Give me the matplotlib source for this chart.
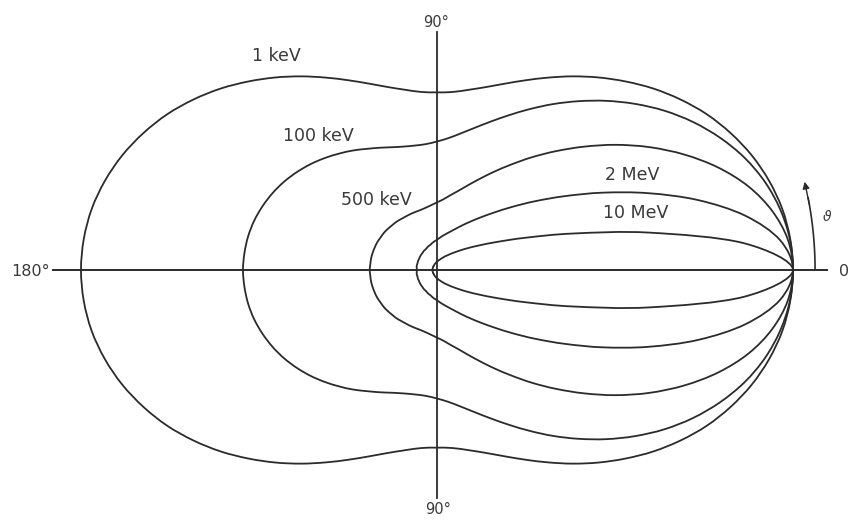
import numpy as np
import matplotlib.pyplot as plt
from matplotlib.path import Path
from matplotlib.patches import PathPatch

# scattering angle, degrees (upper half; lower half is the mirror image)
theta_deg = np.arange(0, 181, 5)

# relative intensity per unit solid angle, normalised to 1 at theta = 0
r_1keV = [1.000, 0.996, 0.985, 0.966, 0.941, 0.910, 0.875, 0.835, 0.793, 0.749,
          0.706, 0.664, 0.624, 0.588, 0.557, 0.532, 0.514, 0.502, 0.499, 0.502,
          0.514, 0.532, 0.557, 0.588, 0.624, 0.664, 0.706, 0.749, 0.793, 0.835,
          0.875, 0.910, 0.941, 0.966, 0.985, 0.996, 1.000]
r_100keV = [1.000, 0.995, 0.979, 0.954, 0.920, 0.878, 0.831, 0.780, 0.726, 0.672,
            0.619, 0.569, 0.522, 0.480, 0.444, 0.414, 0.390, 0.372, 0.361, 0.355,
            0.355, 0.359, 0.367, 0.379, 0.393, 0.410, 0.427, 0.445, 0.463, 0.480,
            0.496, 0.510, 0.522, 0.532, 0.539, 0.543, 0.545]
r_500keV = [1.000, 0.989, 0.956, 0.906, 0.841, 0.767, 0.690, 0.613, 0.539, 0.472,
            0.413, 0.361, 0.318, 0.282, 0.253, 0.230, 0.213, 0.199, 0.190, 0.183,
            0.178, 0.175, 0.174, 0.174, 0.174, 0.175, 0.177, 0.178, 0.180, 0.182,
            0.183, 0.185, 0.186, 0.187, 0.188, 0.188, 0.189]
r_2MeV = [1.000, 0.967, 0.879, 0.759, 0.631, 0.514, 0.415, 0.337, 0.276, 0.229,
          0.194, 0.167, 0.146, 0.129, 0.116, 0.106, 0.098, 0.091, 0.085, 0.081,
          0.077, 0.073, 0.071, 0.068, 0.066, 0.065, 0.063, 0.062, 0.061, 0.060,
          0.059, 0.059, 0.058, 0.058, 0.058, 0.057, 0.057]
r_10MeV = [1.000, 0.865, 0.605, 0.396, 0.265, 0.187, 0.139, 0.108, 0.086, 0.070,
           0.059, 0.050, 0.044, 0.038, 0.034, 0.030, 0.028, 0.025, 0.023, 0.022,
           0.020, 0.019, 0.018, 0.017, 0.016, 0.015, 0.015, 0.014, 0.014, 0.014,
           0.013, 0.013, 0.013, 0.013, 0.013, 0.012, 0.012]

curves = [r_1keV, r_100keV, r_500keV, r_2MeV, r_10MeV]
labels = ['1 keV', '100 keV', '500 keV', '2 MeV', '10 MeV']
label_xy = [(-0.452, 0.601), (-0.334, 0.376), (-0.169, 0.197),
            (0.548, 0.267), (0.559, 0.160)]

ink = '#2b2b2b'
txt = '#3a3a3a'


def smooth_closed_path(x, y):
    # closed Catmull-Rom outline through the points, as cubic Bezier segments
    p = np.column_stack([x, y])
    n = len(p)
    verts = [p[0]]
    codes = [Path.MOVETO]
    for i in range(n):
        p0, p1, p2, p3 = p[i - 1], p[i], p[(i + 1) % n], p[(i + 2) % n]
        verts += [p1 + (p2 - p0) / 6, p2 - (p3 - p1) / 6, p2]
        codes += [Path.CURVE4] * 3
    return Path(verts, codes)


fig = plt.figure(figsize=(8.5, 5.29), dpi=100)
ax = fig.add_axes([0, 0, 1, 1])
ax.set_xlim(-437 / 356, 413 / 356)
ax.set_ylim(-259 / 356, 270 / 356)
ax.axis('off')

# full turn: 0..180 on top, 180..360 mirrored underneath
t_up = np.radians(theta_deg)
t = np.concatenate([t_up, 2 * np.pi - t_up[::-1][1:-1]])
for r in curves:
    r = np.array(r)
    rr = np.concatenate([r, r[::-1][1:-1]])
    path = smooth_closed_path(rr * np.cos(t), rr * np.sin(t))
    ax.add_patch(PathPatch(path, fill=False, edgecolor=ink, lw=1.3))

for lab, (x, y) in zip(labels, label_xy):
    ax.text(x, y, lab, ha='center', va='center', fontsize=12.5, color=txt)

# axes through the scattering centre
ax.plot([-1.079, 1.096], [0, 0], color=ink, lw=1.4)
ax.plot([0, 0], [0.669, -0.640], color=ink, lw=1.3)

ax.text(-0.003, 0.694, '90°', ha='center', va='center', fontsize=10.5, color=txt)
ax.text(0.003, -0.674, '90°', ha='center', va='center', fontsize=10.5, color=txt)
ax.text(-1.143, -0.004, '180°', ha='center', va='center', fontsize=11.5, color=txt)
ax.text(1.143, -0.004, '0', ha='center', va='center', fontsize=11.5, color=txt)

# angle arrow
a = np.radians(np.linspace(0, 11, 30))
R = 1.062
ax.plot(R * np.cos(a), R * np.sin(a), color=ink, lw=1.2)
a0, a1 = np.radians(10), np.radians(13.5)
ax.annotate('', xy=(R * np.cos(a1), R * np.sin(a1)),
            xytext=(R * np.cos(a0), R * np.sin(a0)),
            arrowprops=dict(arrowstyle='-|>', color=ink, lw=1.0,
                            mutation_scale=10, shrinkA=0, shrinkB=0))
ax.text(1.096, 0.149, r'$\vartheta$', ha='center', va='center', fontsize=10,
        color=txt)

plt.savefig('out.png', dpi=100)
